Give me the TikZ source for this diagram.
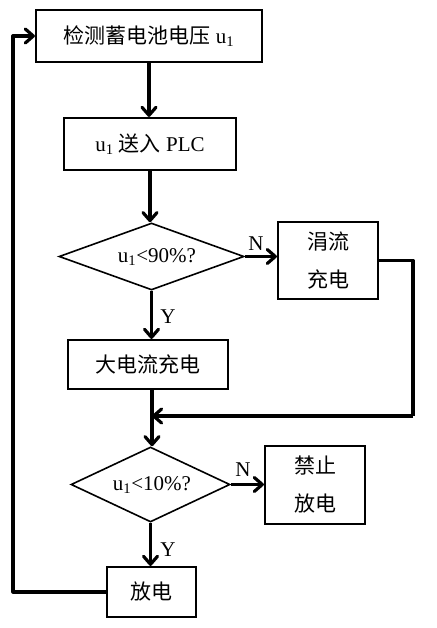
\documentclass[tikz,border=0pt]{standalone}
\usepackage{fontspec}
\setmainfont{Liberation Serif}
\newfontfamily\cjk{Noto Sans CJK SC}
\usetikzlibrary{arrows.meta,shapes.geometric}
\tikzset{
  boxnode/.style={draw,line width=2.2pt,inner sep=0pt,font=\fontsize{21}{38}\selectfont,align=center},
  dianode/.style={draw,diamond,line width=1.6pt,inner sep=0pt},
  txt/.style={inner sep=0pt,font=\fontsize{21}{25}\selectfont},
  flow/.style={line width=3.2pt,line join=round,-{Straight Barb[length=8pt,width=14pt,line cap=round,round]}},
  plain/.style={line width=3.2pt,line join=round}
}
\begin{document}
\begin{tikzpicture}[x=1pt,y=-1pt]
\useasboundingbox (0,0) rectangle (436,628);
\node[boxnode,minimum width=226pt,minimum height=52pt] (b1) at (149,36) {{\cjk 检测蓄电池电压} u\textsubscript{1}};
\node[boxnode,minimum width=172pt,minimum height=52pt] (b2) at (150,144) {u\textsubscript{1} {\cjk 送入} PLC};
\node[dianode,minimum width=185pt,minimum height=67pt] (d1) at (151.5,256.5) {};
\node[txt] (d1t) at (157,257) {u\textsubscript{1}<90\%?};
\node[boxnode,minimum width=100pt,minimum height=77pt] (n1) at (328,260.5) {{\cjk 涓流}\\{\cjk 充电}};
\node[boxnode,minimum width=160pt,minimum height=49pt] (b3) at (148,364.5) {{\cjk 大电流充电}};
\node[dianode,minimum width=159pt,minimum height=75pt] (d2) at (150.5,484.5) {};
\node[txt] (d2t) at (152,485) {u\textsubscript{1}<10\%?};
\node[boxnode,minimum width=100pt,minimum height=78pt] (n2) at (315,485) {{\cjk 禁止}\\{\cjk 放电}};
\node[boxnode,minimum width=89pt,minimum height=50pt] (b4) at (151.5,592) {{\cjk 放电}};
\node[txt] (ln1) at (256,244) {N};
\node[txt] (ly1) at (168,317) {Y};
\node[txt] (ln2) at (243,470) {N};
\node[txt] (ly2) at (168,550) {Y};
\coordinate (jr) at (413,416);
\coordinate (j) at (152,416);
\coordinate (lp) at (13,36);
\draw[flow] (b1.south) -- (b1.south |- b2.north);
\draw[flow] (b2.south) -- (b2.south |- d1.north);
\draw[flow] (d1.east) -- (n1.west |- d1.east);
\draw[flow] (d1.south) -- (d1.south |- b3.north);
\draw[plain] (n1.east) -| (jr);
\draw[flow] (jr) -- (j);
\draw[flow] (j |- b3.south) -- (j |- d2.north);
\draw[flow] (d2.east) -- (n2.west |- d2.east);
\draw[flow] (d2.south) -- (d2.south |- b4.north);
\draw[flow] (b4.west) -| (lp) -- (b1.west);
\end{tikzpicture}
\end{document}
